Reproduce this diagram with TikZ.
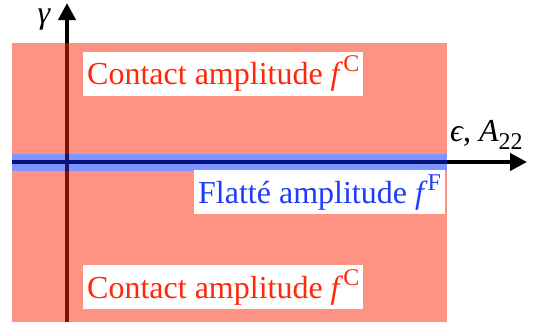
\documentclass[tikz,border=0pt]{standalone}
\usepackage{fontspec}
\setmainfont{Liberation Serif}
\newfontfamily\labelfont{Liberation Serif}
\usetikzlibrary{arrows.meta}
\definecolor{regionred}{RGB}{255,146,130}
\definecolor{textred}{RGB}{255,40,10}
\definecolor{textblue}{RGB}{30,60,255}
\definecolor{bandblue}{RGB}{128,148,255}
\definecolor{axisnavy}{RGB}{0,20,130}
\definecolor{axisdarkred}{RGB}{125,18,0}
\newcommand{\ampsup}[1]{\raisebox{0.4em}{\fontsize{24}{24}\selectfont #1}}
\tikzset{
  labelbox/.style={fill=white, inner xsep=4pt, inner ysep=0pt, text height=33pt, text depth=11pt, anchor=west, font=\labelfont\fontsize{32}{32}\selectfont},
  axisline/.style={line width=4pt},
  axistip/.style={-{Triangle[length=17pt,width=17pt]}},
}
\begin{document}
\begin{tikzpicture}[x=1pt,y=-1pt]
  \useasboundingbox (0,0) rectangle (556,322);
  % shaded region
  \fill[regionred] (12,43) rectangle (447,322);
  % band along the horizontal axis
  \fill[bandblue] (12,154) rectangle (447,171);
  % axis ends
  \coordinate (xs) at (12,162);
  \coordinate (xm) at (447,162);
  \coordinate (xe) at (527,162);
  \coordinate (ys) at (67,322);
  \coordinate (ym) at (67,43);
  \coordinate (ye) at (67,3);
  \coordinate (yb1) at (67,154);
  \coordinate (yb2) at (67,171);
  % vertical axis
  \draw[axisline, axisdarkred] (ys) -- (yb2);
  \draw[axisline, axisdarkred] (yb1) -- (ym);
  \draw[axisline, axisnavy!70!axisdarkred] (yb2) -- (yb1);
  \draw[axisline, axistip, black] (ym) -- (ye);
  % horizontal axis
  \draw[axisline, axisnavy] (xs) -- (xm);
  \draw[axisline, axistip, black] (xm) -- (xe);
  % axis labels
  \node[font=\labelfont\fontsize{32}{32}\selectfont, inner sep=0pt] (gl) at (44,20) {\itshape γ};
  \node[font=\labelfont\fontsize{32}{32}\selectfont, inner sep=0pt, anchor=base west] (el) at (450,141) {\itshape ϵ\upshape, \itshape A\upshape\raisebox{-0.25em}{\fontsize{24}{24}\selectfont 22}};
  % region labels
  \node[labelbox, text=textred] (ct) at (83,73.5) {Contact amplitude \textit{f}\ampsup{C}};
  \node[labelbox, text=textred] (cb) at (83,287) {Contact amplitude \textit{f}\ampsup{C}};
  \node[labelbox, text=textblue] (fl) at (194,192) {Flatté amplitude \textit{f}\ampsup{F}};
\end{tikzpicture}
\end{document}
